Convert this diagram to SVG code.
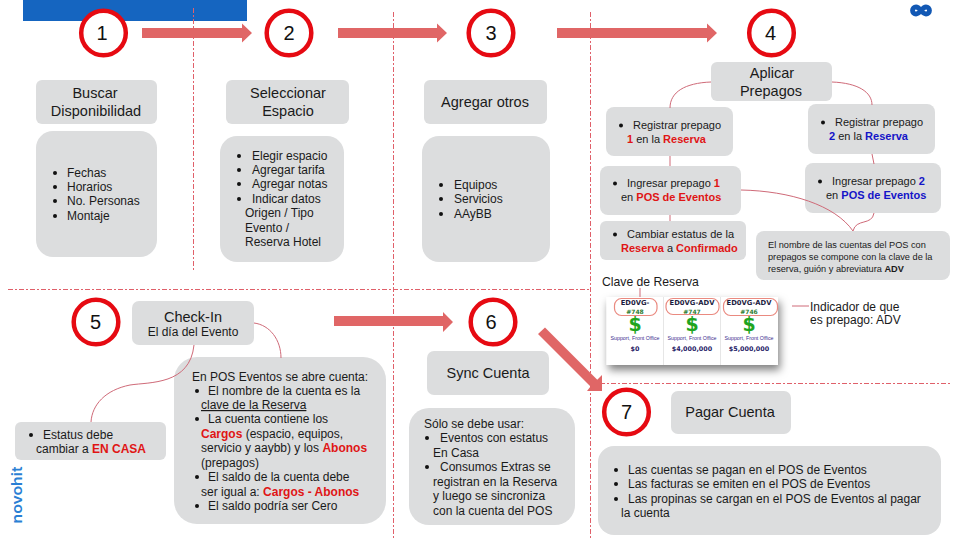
<svg xmlns="http://www.w3.org/2000/svg" width="960" height="540" viewBox="0 0 960 540">
<defs>
<style>
text{font-family:"Liberation Sans",Arial,sans-serif;fill:#1a1a1a;font-size:12px}
.t{font-size:14.5px;text-anchor:middle}
.s{font-size:11px}
.n{font-size:20px;text-anchor:middle;fill:#111}
.b{fill:#dcddde}
.c{fill:#fff;stroke:#e60a12;stroke-width:4.500}
.d{fill:#111}
.r{fill:#e01515;font-weight:bold}
.u{fill:#1414c8;font-weight:bold}
.a{fill:#e06666}
.v{fill:none;stroke:#e0606a;stroke-width:1;stroke-dasharray:5 2 2 2}
.l{fill:none;stroke:#cf6a78;stroke-width:1}
.o{fill:none;stroke:#ea8a80;stroke-width:1.200}
.e{font-family:"DejaVu Sans",sans-serif;font-weight:bold;font-size:6.800px;text-anchor:middle;fill:#1d1d3f}
.h{font-family:"DejaVu Sans",sans-serif;font-weight:bold;font-size:6px;text-anchor:middle;fill:#2e7d32}
.g{font-family:"DejaVu Sans",sans-serif;font-weight:bold;font-size:19px;text-anchor:middle;fill:#1fa51f}
.f{font-size:5.300px;text-anchor:middle;fill:#3b2d8f}
.m{font-family:"DejaVu Sans",sans-serif;font-weight:bold;font-size:6.400px;text-anchor:middle;fill:#1f1a66}
</style>
<filter id="sh" x="-10%" y="-10%" width="120%" height="135%"><feDropShadow dx="2" dy="5" stdDeviation="4" flood-color="#000" flood-opacity=".5"/></filter>
</defs>
<rect id="banner" x="23" y="0" width="224" height="21" fill="#1565c0"/>
<g id="dividers">
<path class="v" d="M193.500 8V270M393.500 12V540M590.500 12V540M8 289.500H590M600 383.500H950"/>
</g>
<g id="logo" fill="none" stroke="#1258b4" stroke-width="4.800">
<path d="M921 10.500C918.500 7.500 917.500 7 916 7A3.500 3.500 0 0 0 916 14C917.500 14 918.500 13.500 921 10.500C923.500 7.500 924.500 7 926 7A3.500 3.500 0 0 1 926 14C924.500 14 923.500 13.500 921 10.500Z"/>
</g>
<text id="novohit" transform="translate(22 523.500) rotate(-90)" textLength="57" lengthAdjust="spacingAndGlyphs" style="font-family:Inter,'Liberation Sans',sans-serif;font-size:14.500px;font-weight:600;fill:#2a7fd4">novohit</text>

<g id="n1"><circle class="c" cx="103.500" cy="33" r="22.300"/><text class="n" x="102" y="40">1</text></g>
<g id="n2"><circle class="c" cx="289" cy="33" r="22.300"/><text class="n" x="289" y="40">2</text></g>
<g id="n3"><circle class="c" cx="491" cy="33" r="22.300"/><text class="n" x="491" y="40">3</text></g>
<g id="n4"><circle class="c" cx="771.500" cy="33" r="22.300"/><text class="n" x="770.500" y="40">4</text></g>
<g id="n5"><circle class="c" cx="96" cy="322" r="22.300"/><text class="n" x="95.500" y="329">5</text></g>
<g id="n6"><circle class="c" cx="493" cy="322" r="22.300"/><text class="n" x="491" y="329">6</text></g>
<g id="n7"><circle class="c" cx="626.500" cy="412" r="22.300"/><text class="n" x="626.500" y="419">7</text></g>

<g id="buscar"><rect class="b" x="36" y="80" width="121" height="44" rx="6"/><text class="t" x="95" y="98">Buscar</text><text class="t" x="96" y="116">Disponibilidad</text></g>
<g id="buscar-list"><rect class="b" x="36" y="131" width="121" height="126" rx="17"/>
<circle class="d" cx="55" cy="173" r="2"/><circle class="d" cx="55" cy="187" r="2"/><circle class="d" cx="55" cy="201" r="2"/><circle class="d" cx="55" cy="216" r="2"/>
<text x="67" y="177">Fechas</text><text x="67" y="191">Horarios</text><text x="67" y="205">No. Personas</text><text x="67" y="220">Montaje</text></g>

<g id="espacio"><rect class="b" x="226" y="80" width="123" height="44" rx="6"/><text class="t" x="288" y="98">Seleccionar</text><text class="t" x="288" y="116">Espacio</text></g>
<g id="espacio-list"><rect class="b" x="220" y="136" width="124" height="126" rx="17"/>
<circle class="d" cx="239" cy="156" r="2"/><circle class="d" cx="239" cy="170" r="2"/><circle class="d" cx="239" cy="184" r="2"/><circle class="d" cx="239" cy="199" r="2"/>
<text x="252" y="160">Elegir espacio</text><text x="252" y="174">Agregar tarifa</text><text x="252" y="188">Agregar notas</text><text x="252" y="203">Indicar datos</text><text x="245" y="217">Origen / Tipo</text><text x="245" y="232">Evento /</text><text x="245" y="246">Reserva Hotel</text></g>

<g id="otros"><rect class="b" x="424" y="80" width="123" height="44" rx="6"/><text class="t" x="485" y="107">Agregar otros</text></g>
<g id="otros-list"><rect class="b" x="422" y="136" width="128" height="126" rx="17"/>
<circle class="d" cx="441" cy="185" r="2"/><circle class="d" cx="441" cy="199" r="2"/><circle class="d" cx="441" cy="214" r="2"/>
<text x="454" y="189">Equipos</text><text x="454" y="203">Servicios</text><text x="454" y="218">AAyBB</text></g>

<g id="prepagos"><rect class="b" x="711" y="62" width="121" height="39" rx="6"/><text class="t" x="772" y="78">Aplicar</text><text class="t" x="771" y="96">Prepagos</text></g>
<g id="reg1"><rect class="b" x="606" y="107" width="127" height="49" rx="8"/><circle class="d" cx="621" cy="125.500" r="2"/>
<text class="s" x="633" y="129">Registrar prepago</text><text class="s" x="627" y="142.500"><tspan class="r">1</tspan> en la <tspan class="r">Reserva</tspan></text></g>
<g id="reg2"><rect class="b" x="808" y="104" width="127" height="50" rx="8"/><circle class="d" cx="823" cy="122.500" r="2"/>
<text class="s" x="835" y="126">Registrar prepago</text><text class="s" x="829" y="139.500"><tspan class="u">2</tspan> en la <tspan class="u">Reserva</tspan></text></g>
<g id="ing1"><rect class="b" x="600" y="166" width="141" height="49" rx="8"/><circle class="d" cx="615" cy="183.500" r="2"/>
<text class="s" x="627" y="187">Ingresar prepago <tspan class="r">1</tspan></text><text class="s" x="621" y="200.500">en <tspan class="r">POS de Eventos</tspan></text></g>
<g id="ing2"><rect class="b" x="805" y="163" width="136" height="50" rx="8"/><circle class="d" cx="820" cy="181.500" r="2"/>
<text class="s" x="832" y="185">Ingresar prepago <tspan class="u">2</tspan></text><text class="s" x="826" y="198.500">en <tspan class="u">POS de Eventos</tspan></text></g>
<g id="cambiar"><rect class="b" x="600" y="221" width="146" height="39" rx="6"/><circle class="d" cx="615" cy="234.500" r="2"/>
<text class="s" x="627" y="238">Cambiar estatus de la</text><text class="s" x="621" y="251.500"><tspan class="r">Reserva</tspan> a <tspan class="r">Confirmado</tspan></text></g>
<g id="nota"><rect class="b" x="756" y="231" width="194" height="49" rx="8"/>
<text x="768" y="248" style="font-size:9.200px">El nombre de las cuentas del POS con</text><text x="768" y="260" style="font-size:9.200px">prepagos se compone con la clave de la</text><text x="768" y="272" style="font-size:9.200px">reserva, guión y abreviatura <tspan font-weight="bold">ADV</tspan></text></g>

<text id="clave" x="602" y="286" style="font-size:12.200px">Clave de Reserva</text>
<g id="cards"><rect x="606.500" y="297" width="171.500" height="68" fill="#fff" filter="url(#sh)"/>
<path d="M663.500 297V365M720.500 297V365" stroke="#e6e6e6" fill="none"/>
<rect class="o" x="614.500" y="298.500" width="42.500" height="17" rx="7"/><rect class="o" x="666" y="298.500" width="53" height="16" rx="7"/><rect class="o" x="723.500" y="298.500" width="54" height="17" rx="7"/>
<text class="e" x="635" y="305">ED0VG-</text><text class="h" x="635" y="313.500">#748</text><text class="g" x="635" y="331">$</text><text class="f" x="635" y="339.500">Support, Front Office</text><text class="m" x="635" y="351">$0</text>
<text class="e" x="692" y="305">ED0VG-ADV</text><text class="h" x="692" y="313.500">#747</text><text class="g" x="692" y="331">$</text><text class="f" x="692" y="339.500">Support, Front Office</text><text class="m" x="692" y="351">$4,000,000</text>
<text class="e" x="749" y="305">ED0VG-ADV</text><text class="h" x="749" y="313.500">#746</text><text class="g" x="749" y="331">$</text><text class="f" x="749" y="339.500">Support, Front Office</text><text class="m" x="749" y="351">$5,000,000</text></g>
<g id="indicador"><text x="810" y="311">Indicador de que</text><text x="810" y="324">es prepago: ADV</text></g>

<g id="checkin"><rect class="b" x="132" y="301" width="122" height="44" rx="7"/><text class="t" x="193" y="322">Check-In</text><text x="193" y="336" text-anchor="middle">El día del Evento</text></g>
<g id="estatus"><rect class="b" x="15" y="422" width="151" height="38" rx="6"/><circle class="d" cx="31" cy="435" r="2"/>
<text x="43" y="439">Estatus debe</text><text x="36" y="453">cambiar a <tspan class="r">EN CASA</tspan></text></g>
<g id="cuenta"><rect class="b" x="174" y="357" width="212" height="167" rx="23"/>
<circle class="d" cx="197" cy="391" r="2"/><circle class="d" cx="197" cy="419" r="2"/><circle class="d" cx="197" cy="477" r="2"/><circle class="d" cx="197" cy="506" r="2"/>
<text x="192" y="381">En POS Eventos se abre cuenta:</text>
<text x="208" y="395">El nombre de la cuenta es la</text>
<text x="201" y="409" text-decoration="underline">clave de la Reserva</text>
<text x="208" y="423">La cuenta contiene los</text>
<text x="201" y="438"><tspan class="r">Cargos</tspan> (espacio, equipos,</text>
<text x="201" y="452">servicio y aaybb) y los <tspan class="r">Abonos</tspan></text>
<text x="201" y="467">(prepagos)</text>
<text x="208" y="481">El saldo de la cuenta debe</text>
<text x="201" y="496">ser igual a: <tspan class="r">Cargos - Abonos</tspan></text>
<text x="208" y="510">El saldo podría ser Cero</text></g>

<g id="sync"><rect class="b" x="427" y="351" width="122" height="44" rx="7"/><text class="t" x="488" y="378">Sync Cuenta</text></g>
<g id="sync-list"><rect class="b" x="409" y="408" width="166" height="117" rx="20"/>
<circle class="d" cx="427" cy="438" r="2"/><circle class="d" cx="427" cy="467" r="2"/>
<text x="424" y="428">Sólo se debe usar:</text><text x="440" y="442">Eventos con estatus</text><text x="433" y="457">En Casa</text><text x="440" y="471">Consumos Extras se</text><text x="433" y="486">registran en la Reserva</text><text x="433" y="500">y luego se sincroniza</text><text x="433" y="515">con la cuenta del POS</text></g>

<g id="pagar"><rect class="b" x="671" y="391" width="120" height="43" rx="7"/><text class="t" x="730" y="417">Pagar Cuenta</text></g>
<g id="pagar-list"><rect class="b" x="598" y="446" width="343" height="89" rx="16"/>
<circle class="d" cx="616" cy="470" r="2"/><circle class="d" cx="616" cy="484" r="2"/><circle class="d" cx="616" cy="499" r="2"/>
<text x="628" y="474">Las cuentas se pagan en el POS de Eventos</text><text x="628" y="488">Las facturas se emiten en el POS de Eventos</text><text x="628" y="503">Las propinas se cargan en el POS de Eventos al pagar</text><text x="621" y="517">la cuenta</text></g>

<g id="connectors">
<path class="a" d="M142 28H242V23.500L252 33L242 42.500V38H142Z"/>
<path class="a" d="M338 28H437V23.500L447 33L437 42.500V38H338Z"/>
<path class="a" d="M557 28H707V23.500L717 33L707 42.500V38H557Z"/>
<path class="a" d="M334 316H443V312L453 322L443 332V326H334Z"/>
<path class="a" d="M545 327.500L597.250 379.750L602 375V391H587L590.500 386.500L538 334Z"/>
<path class="l" d="M711 82C685 83 670 92 670 108"/>
<path class="l" d="M832 82C858 83 872 92 872 105"/>
<path class="l" d="M670 156V166M872 154L874 164M670 215V221"/>
<path class="l" d="M741 190C790 191 835 205 853 231"/>
<path class="l" d="M874 213C872 226 856 218 853 231"/>
<path class="l" d="M640 288V297M792 306H809"/>
<path class="l" d="M194 345C190 385 150 382 130 385C105 390 92 405 91 422"/>
<path class="l" d="M254 323C270 325 281 340 281 358"/>
</g>
</svg>
